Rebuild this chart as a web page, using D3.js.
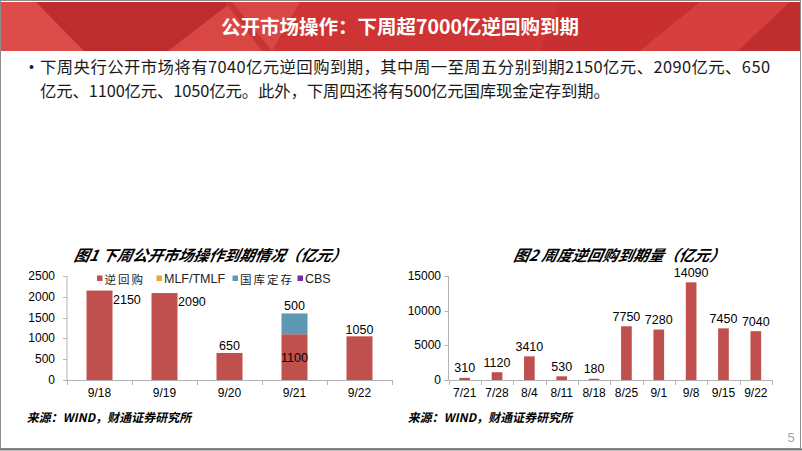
<!DOCTYPE html>
<html><head><meta charset="utf-8">
<script src="https://cdn.jsdelivr.net/npm/d3@7/dist/d3.min.js"></script>
<style>
html,body{margin:0;padding:0;background:#fff;}
svg{display:block;}
</style></head>
<body>
<svg id="slide" width="802" height="451"></svg>
<script>
// ---- data ----
const slideTitle = "公开市场操作：下周超7000亿逆回购到期";
const bodyLines = [
  "下周央行公开市场将有7040亿元逆回购到期，其中周一至周五分别到期2150亿元、2090亿元、650",
  "亿元、1100亿元、1050亿元。此外，下周四还将有500亿元国库现金定存到期。"
];
const chart1Title = "图1 下周公开市场操作到期情况（亿元）";
const chart2Title = "图2 周度逆回购到期量（亿元）";
const sourceText = "来源：WIND，财通证券研究所";

const days = ["9/18", "9/19", "9/20", "9/21", "9/22"];
const reverseRepo = [2150, 2090, 650, 1100, 1050];
const mlf = [0, 0, 0, 0, 0];
const treasuryDeposit = [0, 0, 0, 500, 0];
const cbs = [0, 0, 0, 0, 0];
const legendNames = ["逆回购", "MLF/TMLF", "国库定存", "CBS"];
const ticks1 = [0, 500, 1000, 1500, 2000, 2500];

const weeks = ["7/21", "7/28", "8/4", "8/11", "8/18", "8/25", "9/1", "9/8", "9/15", "9/22"];
const weeklyRepo = [310, 1120, 3410, 530, 180, 7750, 7280, 14090, 7450, 7040];
const ticks2 = [0, 5000, 10000, 15000];

// ---- styles ----
const RED = "#c0504d", GOLD = "#eaa43a", TEAL = "#5f98b2", PURPLE = "#7030a0";
const AXIS = "#b3b3b3";
const CJK = "'Noto Sans CJK SC','Noto Sans',sans-serif";
const LAT = "'Liberation Sans',Arial,'Noto Sans CJK SC',sans-serif";

const svg = d3.select("#slide");

// ---- header ----
const hdr = svg.append("g");
hdr.append("rect").attr("x", 1).attr("y", 2).attr("width", 800).attr("height", 49).attr("fill", "#d23a3a");
const polys = [
  {p: [[1,2],[36,2],[84,51],[1,51]], c: "#dc4d4a"},
  {p: [[36,2],[232,2],[168,51],[84,51]], c: "#bd2c2e"},
  {p: [[232,2],[300,2],[272,51],[168,51]], c: "#d94744"},
  {p: [[225,2],[232,2],[272,51],[262,51]], c: "#c73434"},
  {p: [[300,2],[560,2],[540,51],[272,51]], c: "#cf3434"},
  {p: [[560,2],[700,2],[640,51],[540,51]], c: "#c92f31"},
  {p: [[700,2],[790,2],[738,51],[640,51]], c: "#d63f3d"},
  {p: [[790,2],[801,2],[801,51],[738,51]], c: "#be2e2f"}
];
hdr.selectAll("polygon").data(polys).join("polygon")
  .attr("points", d => d.p.map(q => q.join(",")).join(" "))
  .attr("fill", d => d.c);
hdr.append("text").attr("x", 400).attr("y", 25).attr("text-anchor", "middle")
  .attr("dominant-baseline", "central")
  .attr("font-family", CJK).attr("font-size", 19.5).attr("font-weight", 700)
  .attr("fill", "#fff").text(slideTitle);

// border
svg.append("rect").attr("x", 0.5).attr("y", 0.5).attr("width", 800).attr("height", 448)
  .attr("fill", "none").attr("stroke", "#8c8c8c").attr("stroke-width", 1);
svg.append("line").attr("x1", 0).attr("x2", 802).attr("y1", 449.5).attr("y2", 449.5)
  .attr("stroke", "#7a7a7a").attr("stroke-width", 2);

// ---- body text ----
svg.append("text").attr("x", 29).attr("y", 67).attr("dominant-baseline", "central")
  .attr("font-family", LAT).attr("font-size", 14).attr("fill", "#222").text("•");
const bodyLen = [730, 570];
svg.selectAll("text.body").data(bodyLines).join("text").attr("class", "body")
  .attr("x", 40).attr("y", (d, i) => 66 + i * 24).attr("dominant-baseline", "central")
  .attr("textLength", (d, i) => bodyLen[i]).attr("lengthAdjust", "spacing")
  .attr("font-family", CJK).attr("font-size", 16.4).attr("fill", "#1a1a1a").text(d => d);

// ---- helper for axes ----
function drawAxes(g, x, y, tickVals, labelX) {
  const [x0, x1] = x.range();
  const y0 = y.range()[0];
  g.append("line").attr("x1", x0).attr("x2", x0).attr("y1", y.range()[1]).attr("y2", y0)
    .attr("stroke", AXIS);
  g.selectAll("line.yt").data(tickVals).join("line").attr("class", "yt")
    .attr("x1", x0 - 4).attr("x2", x0).attr("y1", d => Math.round(y(d)) + 0.5).attr("y2", d => Math.round(y(d)) + 0.5)
    .attr("stroke", AXIS);
  g.selectAll("text.yl").data(tickVals).join("text").attr("class", "yl")
    .attr("x", labelX).attr("y", d => y(d)).attr("text-anchor", "end").attr("dominant-baseline", "central")
    .attr("font-family", LAT).attr("font-size", 12).attr("fill", "#000").text(d => d);
  g.append("line").attr("x1", x0).attr("x2", x1).attr("y1", y0 + 0.5).attr("y2", y0 + 0.5).attr("stroke", AXIS);
  const dom = x.domain();
  const bounds = d3.range(dom.length + 1).map(i => x0 + i * x.step());
  g.selectAll("line.xt").data(bounds).join("line").attr("class", "xt")
    .attr("x1", d => Math.round(d) + 0.5).attr("x2", d => Math.round(d) + 0.5).attr("y1", y0).attr("y2", y0 + 5)
    .attr("stroke", AXIS);
  g.selectAll("text.xl").data(dom).join("text").attr("class", "xl")
    .attr("x", d => x(d) + x.bandwidth() / 2).attr("y", y0 + 13).attr("text-anchor", "middle")
    .attr("dominant-baseline", "central")
    .attr("font-family", LAT).attr("font-size", 12).attr("fill", "#000").text(d => d);
}

// ---- chart 1 ----
const g1 = svg.append("g");
const x1 = d3.scaleBand().domain(days).range([67, 392]).paddingInner(0.6).paddingOuter(0.3);
const y1 = d3.scaleLinear().domain([0, 2500]).range([380, 276]);
drawAxes(g1, x1, y1, ticks1, 55);

const stackData = days.map((d, i) => ({day: d, r: reverseRepo[i], m: mlf[i], t: treasuryDeposit[i], c: cbs[i]}));
const stack = d3.stack().keys(["r", "m", "t", "c"])(stackData);
const colors = {r: RED, m: GOLD, t: TEAL, c: PURPLE};
g1.selectAll("g.s").data(stack).join("g").attr("class", "s").attr("fill", s => colors[s.key])
  .selectAll("rect").data(s => s.filter(p => p[1] > p[0])).join("rect")
  .attr("x", p => x1(p.data.day)).attr("width", x1.bandwidth())
  .attr("y", p => y1(p[1])).attr("height", p => y1(p[0]) - y1(p[1]));

// data labels chart 1
const lab1 = g1.append("g").attr("font-family", LAT).attr("font-size", 12.5).attr("fill", "#000");
days.forEach((d, i) => {
  const v = reverseRepo[i];
  const cx = x1(d) + x1.bandwidth() / 2;
  if (v > 2000) {
    lab1.append("text").attr("x", x1(d) + x1.bandwidth() + 0.5).attr("y", y1(v) + 9)
      .attr("dominant-baseline", "central").text(v);
  } else if (treasuryDeposit[i] > 0) {
    lab1.append("text").attr("x", cx).attr("y", (y1(0) + y1(v)) / 2 + 1).attr("text-anchor", "middle")
      .attr("dominant-baseline", "central").text(v);
    lab1.append("text").attr("x", cx).attr("y", y1(v + treasuryDeposit[i]) - 3).attr("text-anchor", "middle")
      .text(treasuryDeposit[i]);
  } else {
    lab1.append("text").attr("x", cx).attr("y", y1(v) - 2.5).attr("text-anchor", "middle").text(v);
  }
});

// legend chart 1
const legX = [97, 156.5, 232.5, 297.5];
const legC = [RED, GOLD, TEAL, PURPLE];
const leg = g1.append("g");
legendNames.forEach((n, i) => {
  leg.append("rect").attr("x", legX[i]).attr("y", 275.5).attr("width", 5.5).attr("height", 5.5).attr("fill", legC[i]);
  leg.append("text").attr("x", legX[i] + 7.5).attr("y", 278.5).attr("dominant-baseline", "central")
    .attr("font-family", /^[A-Z]/.test(n) ? LAT : CJK).attr("font-size", /^[A-Z]/.test(n) ? 12.5 : 11.5)
    .attr("fill", "#222").attr("letter-spacing", /^[A-Z]/.test(n) ? 0 : 2).text(n);
});

// ---- chart 2 ----
const g2 = svg.append("g");
const x2 = d3.scaleBand().domain(weeks).range([448.5, 772]).paddingInner(0.67).paddingOuter(0.335);
const y2 = d3.scaleLinear().domain([0, 15000]).range([380, 276]);
drawAxes(g2, x2, y2, ticks2, 441);
g2.selectAll("rect.b").data(weeks).join("rect").attr("class", "b")
  .attr("x", d => x2(d)).attr("width", x2.bandwidth())
  .attr("y", (d, i) => y2(weeklyRepo[i])).attr("height", (d, i) => y2(0) - y2(weeklyRepo[i]))
  .attr("fill", RED);
g2.selectAll("text.v").data(weeks).join("text").attr("class", "v")
  .attr("x", d => x2(d) + x2.bandwidth() / 2).attr("y", (d, i) => y2(weeklyRepo[i]) - 5.5)
  .attr("text-anchor", "middle").attr("font-family", LAT).attr("font-size", 12.5).attr("fill", "#000")
  .text((d, i) => weeklyRepo[i]);

// ---- titles ----
svg.selectAll("text.ct").data([{t: chart1Title, x: 211}, {t: chart2Title, x: 620}]).join("text")
  .attr("class", "ct").attr("x", d => d.x).attr("y", 254).attr("text-anchor", "middle")
  .attr("dominant-baseline", "central").attr("font-family", CJK).attr("font-size", 15.3)
  .attr("font-weight", 700).attr("font-style", "italic").attr("fill", "#000")
  .attr("transform", d => `translate(${d.x},254) skewX(-12) translate(${-d.x},-254)`)
  .text(d => d.t);

// ---- sources ----
svg.selectAll("text.src").data([28, 409]).join("text").attr("class", "src")
  .attr("x", d => d).attr("y", 417).attr("dominant-baseline", "central")
  .attr("font-family", CJK).attr("font-size", 12).attr("font-weight", 700).attr("fill", "#000")
  .attr("transform", d => `translate(${d},417) skewX(-12) translate(${-d},-417)`)
  .text(sourceText);

// page number
svg.append("text").attr("x", 791).attr("y", 437).attr("text-anchor", "middle").attr("dominant-baseline", "central")
  .attr("font-family", LAT).attr("font-size", 13).attr("fill", "#a6a6a6").text("5");
</script>
</body></html>
